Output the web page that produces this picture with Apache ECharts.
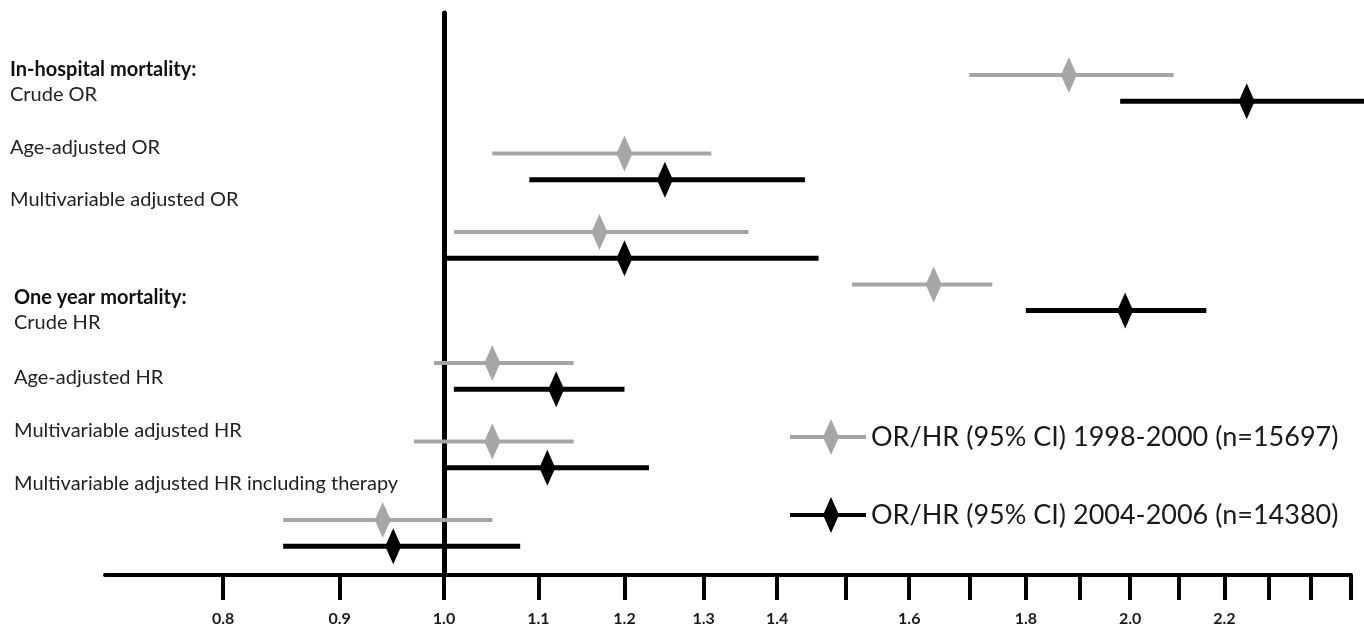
<!DOCTYPE html>
<html>
<head>
<meta charset="utf-8">
<script src="https://cdn.jsdelivr.net/npm/echarts@6/dist/echarts.min.js"></script>
<style>
    html, body {margin: 0; padding: 0; background: #fff;}
    #chart {width: 1364px; height: 631px;}
</style>
</head>
<body>
<div id="chart"></div>
<script>
// odds / hazard ratios, one entry per outcome row
var rowNames = ['Crude OR', 'Age-adjusted OR', 'Multivariable adjusted OR',
    'Crude HR', 'Age-adjusted HR', 'Multivariable adjusted HR',
    'Multivariable adjusted HR including therapy'];
var groupTitles = ['In-hospital mortality:', 'One year mortality:'];
var legendNames = ['OR/HR (95% CI) 1998-2000 (n=15697)', 'OR/HR (95% CI) 2004-2006 (n=14380)'];

// 1998-2000 (grey)
var estOld = [1.88, 1.20, 1.17, 1.64, 1.05, 1.05, 0.94];
var lowOld = [1.70, 1.05, 1.01, 1.51, 0.99, 0.97, 0.85];
var highOld = [2.09, 1.31, 1.36, 1.74, 1.14, 1.14, 1.05];
// 2004-2006 (black)
var estNew = [2.25, 1.25, 1.20, 1.99, 1.12, 1.11, 0.95];
var lowNew = [1.98, 1.09, 1.00, 1.80, 1.01, 1.00, 0.85];
var highNew = [2.54, 1.44, 1.46, 2.16, 1.20, 1.23, 1.08];

// row order of the bars from the top (gaps between the pairs)
var rowOld = [0, 3, 6, 8, 11, 14, 17];
var rowNew = [1, 4, 7, 9, 12, 15, 18];

var tickValues = [0.8, 0.9, 1.0, 1.1, 1.2, 1.3, 1.4, 1.5, 1.6, 1.7, 1.8, 1.9, 2.0, 2.1, 2.2, 2.3, 2.4, 2.5];
var tickLabels = [0.8, 0.9, 1.0, 1.1, 1.2, 1.3, 1.4, 1.6, 1.8, 2.0, 2.2];

var GREY = '#a6a6a6', BLACK = '#000000';
var FONT = 'Lato';
var legendIcon = 'path://M0,16H76V20H0Z M41,0L49,18L41,36L33,18Z';

function ciSeries(name, low, high, rows, color, width) {
    return {
        type: 'custom',
        name: name,
        silent: true,
        z: 2,
        encode: {x: [0, 1], y: 2},
        data: low.map(function (v, i) {
            return [Math.log(v), Math.log(high[i]), rows[i]];
        }),
        renderItem: function (params, api) {
            var a = api.coord([api.value(0), api.value(2)]);
            var b = api.coord([api.value(1), api.value(2)]);
            return {
                type: 'line',
                shape: {x1: a[0], y1: a[1], x2: b[0], y2: b[1]},
                style: {stroke: color, lineWidth: width}
            };
        }
    };
}

function pointSeries(name, est, rows, color) {
    return {
        type: 'scatter',
        name: name,
        z: 3,
        symbol: 'diamond',
        symbolSize: [16, 36],
        itemStyle: {color: color, opacity: 1},
        data: est.map(function (v, i) {
            return [Math.log(v), rows[i]];
        })
    };
}

// row labels on the left
function buildLabels() {
    var out = [];
    var groups = [
        {x: 10, title: 70, rows: [[0, 95], [1, 148], [2, 200]]},
        {x: 14, title: 298, rows: [[3, 323], [4, 378], [5, 431], [6, 484]]}
    ];
    groups.forEach(function (g, gi) {
        out.push({
            type: 'text', x: g.x, y: g.title,
            style: {text: groupTitles[gi], font: 'bold 20px ' + FONT, fill: '#111', verticalAlign: 'middle'}
        });
        g.rows.forEach(function (r) {
            out.push({
                type: 'text', x: g.x, y: r[1],
                style: {text: rowNames[r[0]], font: '20px ' + FONT, fill: '#222', verticalAlign: 'middle'}
            });
        });
    });
    return out;
}

var chart = echarts.init(document.getElementById('chart'));

var option = {
    animation: false,
    backgroundColor: '#fff',
    grid: {left: 105, right: 13, top: 13, bottom: 56},
    legend: {
        orient: 'vertical',
        left: 790,
        top: 419,
        padding: 0,
        itemWidth: 76,
        itemHeight: 36,
        itemGap: 42,
        selectedMode: false,
        textStyle: {fontSize: 27, color: '#1a1a1a', fontFamily: FONT},
        data: [
            {name: legendNames[0], icon: legendIcon},
            {name: legendNames[1], icon: legendIcon}
        ]
    },
    xAxis: {
        type: 'value',
        min: Math.log(0.71),
        max: Math.log(2.5),
        axisLine: {onZero: false, lineStyle: {color: BLACK, width: 4}},
        axisTick: {
            show: true,
            length: 25,
            lineStyle: {color: BLACK, width: 4},
            customValues: tickValues.map(Math.log)
        },
        axisLabel: {
            customValues: tickLabels.map(Math.log),
            formatter: function (v) {
                return Math.exp(v).toFixed(1);
            },
            margin: 36,
            fontWeight: 'bold',
            fontSize: 16,
            color: '#1a1a1a',
            fontFamily: FONT
        },
        splitLine: {show: false}
    },
    yAxis: {
        type: 'value',
        inverse: true,
        min: -2.37,
        max: 19.1,
        axisLine: {show: true, onZero: true, lineStyle: {color: BLACK, width: 5}},
        axisTick: {show: false},
        axisLabel: {show: false},
        splitLine: {show: false}
    },
    graphic: buildLabels(),
    series: [
        ciSeries('ci-old', lowOld, highOld, rowOld, GREY, 4),
        ciSeries('ci-new', lowNew, highNew, rowNew, BLACK, 5),
        pointSeries(legendNames[0], estOld, rowOld, GREY),
        pointSeries(legendNames[1], estNew, rowNew, BLACK)
    ]
};

chart.setOption(option);
</script>
</body>
</html>
